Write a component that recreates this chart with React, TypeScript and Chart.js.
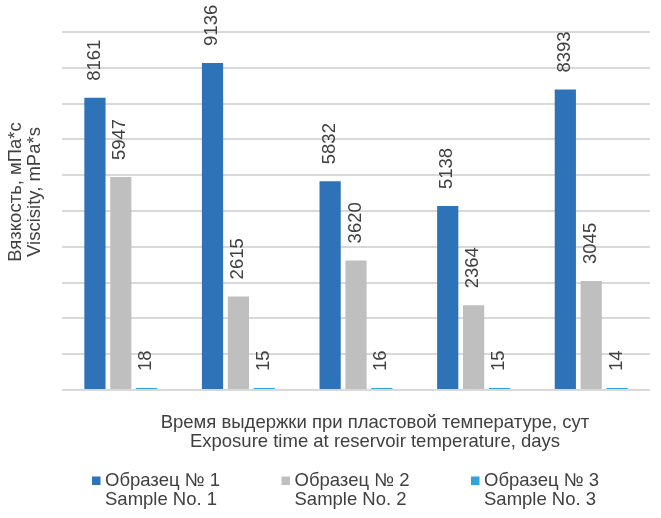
import { useEffect, useRef } from "react";
import { Chart, registerables } from "chart.js";

Chart.register(...registerables);

const categories = ["1", "2", "3", "4", "5"];
const sample1 = [8161, 9136, 5832, 5138, 8393];
const sample2 = [5947, 2615, 3620, 2364, 3045];
const sample3 = [18, 15, 16, 15, 14];
const seriesLabels = [
  ["Образец № 1", "Sample No. 1"],
  ["Образец № 2", "Sample No. 2"],
  ["Образец № 3", "Sample No. 3"],
];
const seriesColors = ["#2E73B8", "#BFBFBF", "#2EA3DC"];
const yTitle = ["Вязкость, мПа*с", "Viscisity, mPa*s"];
const xTitle = [
  "Время выдержки при пластовой температуре, сут",
  "Exposure time at reservoir temperature, days",
];
const yMin = 0;
const yMax = 10000;
const yStep = 1000;

const FONT = '"Liberation Sans", Arial, sans-serif';
const TEXT = "#404040";
const FS = 18.5;

const dataLabelPlugin = {
  id: "dataLabels",
  afterDatasetsDraw(chart: any) {
    const ctx = chart.ctx;
    ctx.save();
    ctx.font = `${FS}px ${FONT}`;
    ctx.fillStyle = TEXT;
    ctx.textAlign = "left";
    ctx.textBaseline = "middle";
    chart.data.datasets.forEach((ds: any, di: number) => {
      const meta = chart.getDatasetMeta(di);
      meta.data.forEach((bar: any, i: number) => {
        ctx.save();
        ctx.translate(bar.x - 0.5, bar.y - 17);
        ctx.rotate(-Math.PI / 2);
        ctx.fillText(String(ds.data[i]), 0, 0);
        ctx.restore();
      });
    });
    ctx.restore();
  },
};

const titlesPlugin = {
  id: "axisTitles",
  afterDraw(chart: any) {
    const ctx = chart.ctx;
    const area = chart.chartArea;
    ctx.save();
    ctx.font = `${FS}px ${FONT}`;
    ctx.fillStyle = TEXT;
    ctx.textAlign = "center";
    ctx.textBaseline = "middle";
    // x title
    xTitle.forEach((line, i) => {
      ctx.fillText(line, area.left + 313, area.bottom + 33 + i * 19);
    });
    // y title
    ctx.save();
    ctx.translate(16, (area.top + area.bottom) / 2 - 19);
    ctx.rotate(-Math.PI / 2);
    yTitle.forEach((line, i) => {
      ctx.fillText(line, 0, i * 18.5);
    });
    ctx.restore();
    ctx.restore();
  },
};

const legendPlugin = {
  id: "bottomLegend",
  afterDraw(chart: any) {
    const ctx = chart.ctx;
    const area = chart.chartArea;
    ctx.save();
    ctx.font = `${FS}px ${FONT}`;
    ctx.textAlign = "left";
    ctx.textBaseline = "middle";
    chart.data.datasets.forEach((ds: any, i: number) => {
      const x = area.left + 30 + i * 189.5;
      const y = area.bottom + 91;
      ctx.fillStyle = ds.backgroundColor;
      ctx.fillRect(x, y - 4.5, 8.5, 8.5);
      ctx.fillStyle = TEXT;
      const lines: string[] = ds.legendLines;
      lines.forEach((line, li) => {
        ctx.fillText(line, x + 13, y + li * 19);
      });
    });
    ctx.restore();
  },
};

export default function App() {
  const ref = useRef<HTMLCanvasElement>(null);

  useEffect(() => {
    if (!ref.current) return;
    const datasets = [sample1, sample2, sample3].map((d, i) => ({
      label: seriesLabels[i].join(" "),
      legendLines: seriesLabels[i],
      data: d,
      backgroundColor: seriesColors[i],
      borderWidth: 0,
      minBarLength: i === 2 ? 2 : 0,
      categoryPercentage: 0.66,
      barPercentage: 0.82,
    }));
    const chart = new Chart(ref.current, {
      type: "bar",
      data: { labels: categories, datasets: datasets as any },
      options: {
        animation: false,
        responsive: true,
        maintainAspectRatio: false,
        layout: { padding: { top: 32, right: 11, bottom: 0, left: 0 } },
        plugins: {
          legend: { display: false },
          tooltip: { enabled: false },
        },
        scales: {
          x: {
            grid: { display: false, drawTicks: false },
            border: { display: false },
            ticks: { display: false },
            title: { display: false },
            afterFit(scale: any) {
              scale.height = 128;
            },
          },
          y: {
            min: yMin,
            max: yMax,
            ticks: { display: false, stepSize: yStep },
            grid: { color: "#D9D9D9", lineWidth: 2, drawTicks: false },
            border: { display: false },
            title: { display: false },
            afterFit(scale: any) {
              scale.width = 62;
            },
          },
        },
      },
      plugins: [dataLabelPlugin, titlesPlugin, legendPlugin],
    });
    return () => chart.destroy();
  }, []);

  return (
    <div
      style={{
        position: "absolute",
        left: 0,
        top: 0,
        width: 661,
        height: 518,
        background: "#fff",
      }}
    >
      <canvas ref={ref} />
    </div>
  );
}
